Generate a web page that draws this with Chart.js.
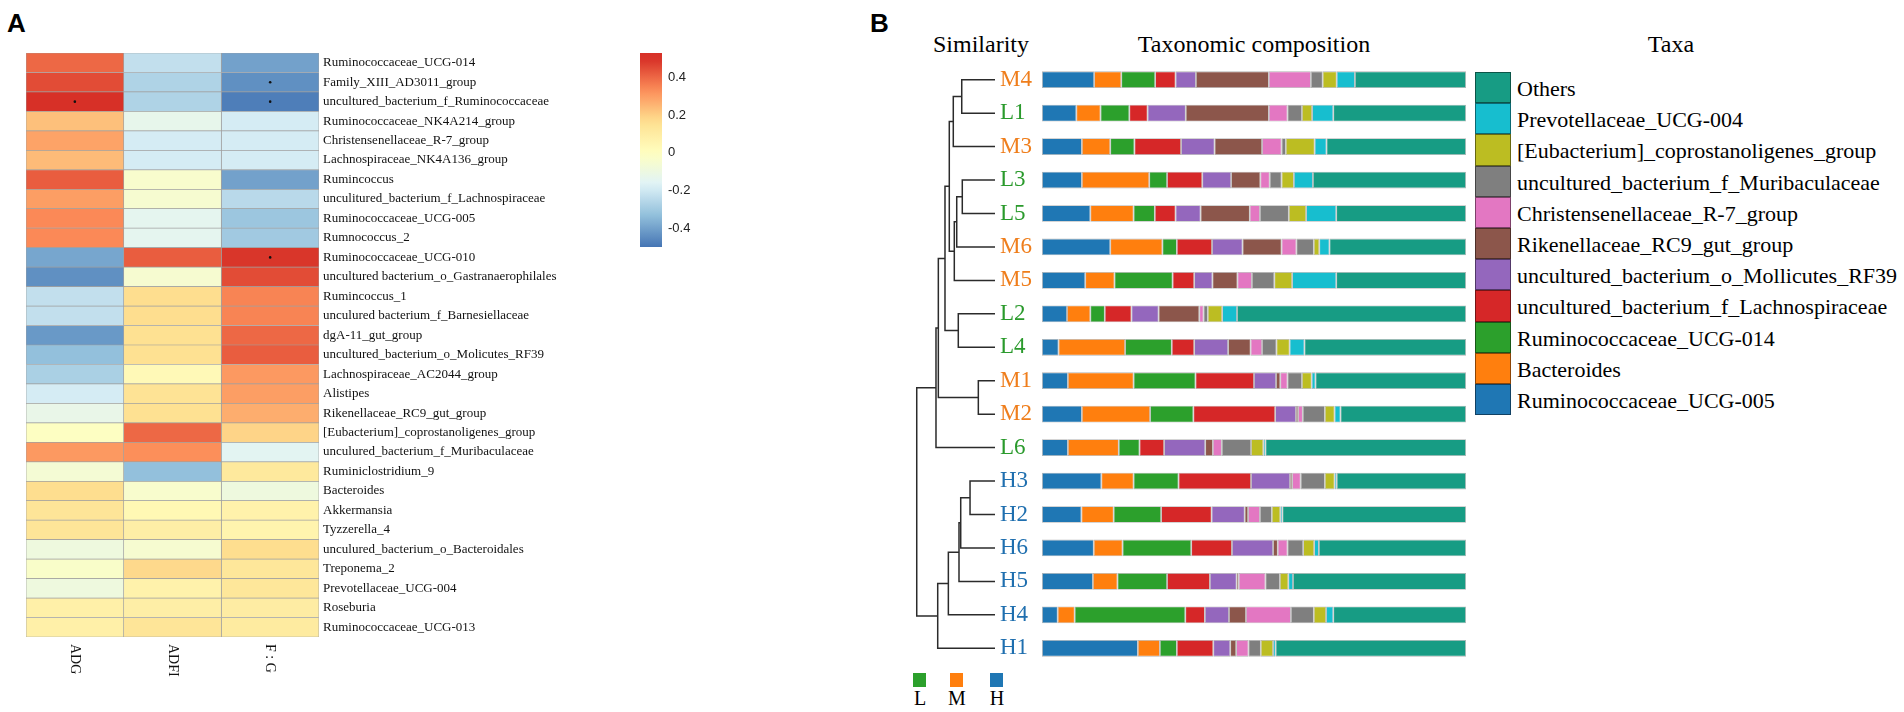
<!DOCTYPE html>
<html>
<head>
<meta charset="utf-8">
<title>Genus-trait correlation and taxonomic composition</title>
<script src="https://cdn.jsdelivr.net/npm/chart.js@4.4.1/dist/chart.umd.min.js"></script>
<style>
  html, body { margin: 0; padding: 0; background: #fff; }
  body { width: 1904px; height: 712px; position: relative; overflow: hidden;
         font-family: 'Liberation Serif', 'Times New Roman', serif; color: #000; }
  .box { position: absolute; }
  .panel { position: absolute; font-family: 'Liberation Sans', Arial, sans-serif;
           font-weight: bold; font-size: 26px; line-height: 26px; }
  .head { position: absolute; font-size: 24px; line-height: 24px; white-space: nowrap;
          transform: translateX(-50%); }
  #taxaLegend { position: absolute; left: 1475px; top: 72px; }
  .lg-row { display: flex; align-items: center; height: 31.2px; }
  .lg-box { width: 36px; height: 31.2px; box-sizing: border-box; border: 1px solid rgba(0,0,0,0.45); }
  .lg-text { margin-left: 6px; font-size: 22px; line-height: 22px; padding-top: 3px; white-space: nowrap; }
  .grp-box { position: absolute; width: 13px; height: 14px; top: 673px; }
  .grp-text { position: absolute; top: 688px; font-size: 20px; line-height: 20px; transform: translateX(-50%); }
</style>
</head>
<body>

<div class="panel" style="left:7px; top:10px;">A</div>
<div class="panel" style="left:870px; top:10px;">B</div>

<div class="head" style="left:981px; top:32px;">Similarity</div>
<div class="head" style="left:1254px; top:32px;">Taxonomic composition</div>
<div class="head" style="left:1671px; top:32px;">Taxa</div>

<div class="box" style="left:26px; top:53px; width:553px; height:629px;"><canvas id="heatChart"></canvas></div>
<div class="box" style="left:640px; top:53px; width:62px; height:194px;"><canvas id="scaleChart"></canvas></div>
<div class="box" style="left:905px; top:63px; width:135px; height:602px;"><canvas id="treeChart"></canvas></div>
<div class="box" style="left:1042px; top:63px; width:424px; height:602px;"><canvas id="barChart"></canvas></div>

<div id="taxaLegend"></div>
<div id="groupLegend"></div>

<script>
// ---- Panel A: Spearman correlation of genera with growth traits ----
const genera = [
    'Ruminococcaceae_UCG-014', 'Family_XIII_AD3011_group', 'uncultured_bacterium_f_Ruminococcaceae',
    'Ruminococcaceae_NK4A214_group', 'Christensenellaceae_R-7_group', 'Lachnospiraceae_NK4A136_group',
    'Rumincoccus', 'unculitured_bacterium_f_Lachnospiraceae', 'Ruminococcaceae_UCG-005',
    'Rumnococcus_2', 'Ruminococcaceae_UCG-010', 'uncultured bacterium_o_Gastranaerophilales',
    'Rumincoccus_1', 'unculured bacterium_f_Barnesiellaceae', 'dgA-11_gut_group',
    'uncultured_bacterium_o_Molicutes_RF39', 'Lachnospiraceae_AC2044_group', 'Alistipes',
    'Rikenellaceae_RC9_gut_group', '[Eubacterium]_coprostanoligenes_group', 'unculured_bacterium_f_Muribaculaceae',
    'Ruminiclostridium_9', 'Bacteroides', 'Akkermansia', 'Tyzzerella_4',
    'unculured_bacterium_o_Bacteroidales', 'Treponema_2', 'Prevotellaceae_UCG-004', 'Roseburia',
    'Ruminococcaceae_UCG-013'
];
const traits = ['ADG', 'ADFI', 'F : G'];

const corrADG = [0.40, 0.45, 0.50, 0.23, 0.29, 0.24, 0.42, 0.30, 0.34, 0.34,
                 -0.39, -0.44, -0.23, -0.23, -0.42, -0.33, -0.28, -0.19, -0.12, -0.01,
                 0.31, -0.06, 0.17, 0.14, 0.14, -0.09, -0.03, -0.09, 0.08, 0.08];
const corrADFI = [-0.23, -0.27, -0.27, -0.13, -0.19, -0.19, -0.04, -0.05, -0.14, -0.14,
                  0.42, -0.05, 0.17, 0.17, 0.16, 0.16, 0.03, 0.15, 0.16, 0.40,
                  0.33, -0.33, -0.04, 0.04, 0.09, -0.05, 0.18, 0.07, 0.09, 0.14];
const corrFG = [-0.40, -0.44, -0.48, -0.19, -0.19, -0.19, -0.40, -0.25, -0.31, -0.30,
                0.49, 0.45, 0.35, 0.35, 0.40, 0.42, 0.31, 0.30, 0.27, 0.19,
                -0.15, 0.12, -0.09, 0.07, 0.06, 0.17, 0.13, 0.13, 0.10, 0.11];

// rows with a significance mark (index into genera)
const signifADG = [2];
const signifADFI = [];
const signifFG = [1, 2, 10];

const scaleMin = -0.5;
const scaleMax = 0.53;
const scaleTicks = [0.4, 0.2, 0, -0.2, -0.4];
const scaleTickLabels = ['0.4', '0.2', '0', '-0.2', '-0.4'];
const palette = ['#4575B4', '#91BFDB', '#E0F3F8', '#FFFFBF', '#FEE090', '#FC8D59', '#D73027'];

// ---- Panel B: relative abundance (%) of top genera per sample ----
const samples = ['M4', 'L1', 'M3', 'L3', 'L5', 'M6', 'M5', 'L2', 'L4',
                 'M1', 'M2', 'L6', 'H3', 'H2', 'H6', 'H5', 'H4', 'H1'];
const groupColors = { L: '#2a9a2c', M: '#ef7e1c', H: '#1f6faf' };

const taxa = ['Ruminococcaceae_UCG-005', 'Bacteroides', 'Ruminococcaceae_UCG-014',
              'uncultured_bacterium_f_Lachnospiraceae', 'uncultured_bacterium_o_Mollicutes_RF39',
              'Rikenellaceae_RC9_gut_group', 'Christensenellaceae_R-7_group',
              'uncultured_bacterium_f_Muribaculaceae', '[Eubacterium]_coprostanoligenes_group',
              'Prevotellaceae_UCG-004', 'Others'];
const taxaColors = ['#1f77b4', '#ff7f0e', '#2ca02c', '#d62728', '#9467bd', '#8c564b',
                    '#e377c2', '#7f7f7f', '#bcbd22', '#17becf', '#179c84'];

const ucg005      = [12.3, 8.1, 9.4, 9.4, 11.4, 16.1, 10.2, 5.9, 3.9, 6.1, 9.4, 6.1, 14.0, 9.3, 12.2, 12.0, 3.7, 22.6];
const bacteroides = [6.4, 5.7, 6.7, 15.9, 10.2, 12.3, 6.9, 5.5, 15.7, 15.5, 16.1, 12.0, 7.6, 7.6, 6.8, 5.8, 4.0, 5.2];
const ucg014      = [8.0, 6.8, 5.7, 4.2, 5.0, 3.4, 13.7, 3.4, 11.0, 14.6, 10.2, 4.9, 10.6, 11.2, 16.2, 11.7, 26.1, 4.0];
const lachno      = [4.8, 4.3, 11.0, 8.3, 4.9, 8.3, 5.1, 6.3, 5.3, 13.8, 19.3, 5.8, 17.1, 11.9, 9.6, 10.1, 4.6, 8.6];
const rf39        = [4.8, 9.0, 7.9, 6.8, 5.9, 7.2, 4.3, 6.4, 8.0, 5.2, 4.9, 9.7, 9.2, 7.8, 9.7, 6.3, 5.7, 4.0];
const rc9         = [17.2, 19.6, 11.2, 6.9, 11.6, 9.2, 5.9, 9.6, 5.3, 1.0, 0.5, 1.8, 0.5, 0.8, 1.1, 0.5, 4.0, 1.4];
const r7          = [9.9, 4.4, 4.6, 2.2, 2.4, 3.5, 3.4, 1.0, 2.7, 1.7, 1.1, 2.1, 2.0, 2.8, 2.3, 6.3, 10.6, 2.9];
const muribac     = [2.8, 3.4, 1.0, 2.8, 6.8, 4.1, 5.3, 1.0, 3.4, 3.4, 5.2, 6.9, 5.7, 2.8, 3.7, 3.4, 5.4, 2.9];
const eubact      = [3.3, 2.4, 6.8, 2.9, 4.1, 1.3, 4.2, 3.4, 3.1, 2.3, 2.3, 2.9, 2.3, 2.0, 2.6, 2.0, 2.9, 2.9];
const prevo004    = [4.3, 5.0, 2.8, 4.5, 7.1, 2.4, 10.4, 3.5, 3.5, 0.9, 1.4, 0.5, 0.5, 0.5, 1.1, 1.1, 1.7, 0.6];
const others      = [26.2, 31.3, 32.9, 36.1, 30.6, 32.2, 30.6, 54.0, 38.1, 35.5, 29.6, 47.3, 30.5, 43.3, 34.7, 40.8, 31.3, 44.9];

// hierarchical clustering: [left, right, height]; numbers refer to earlier merges
const merges = [
    ['M4', 'L1', 0.425], [0, 'M3', 0.533],
    ['L3', 'L5', 0.418], [2, 'M6', 0.489], [3, 'M5', 0.520],
    [1, 4, 0.584], ['L2', 'L4', 0.469], [5, 6, 0.639],
    ['M1', 'M2', 0.213], [7, 8, 0.724], [9, 'L6', 0.754],
    ['H3', 'H2', 0.319], [11, 'H6', 0.438], [12, 'H5', 0.460],
    [13, 'H4', 0.596], [14, 'H1', 0.732], [10, 15, 1.0]
];

const groups = ['L', 'M', 'H'];
const groupLegendX = [920, 957, 997];


Chart.defaults.font.family = "'Liberation Serif', 'Times New Roman', serif";
Chart.defaults.animation = false;

// RdYlBu ramp, same as the colour key
function colorFor(v) {
    const t = Math.min(1, Math.max(0, (v + 0.5) / 1.0)) * (palette.length - 1);
    const i = Math.min(palette.length - 2, Math.floor(t));
    const f = t - i;
    const a = palette[i], b = palette[i + 1];
    const ch = (c, k) => parseInt(c.substr(1 + 2 * k, 2), 16);
    const mix = k => Math.round(ch(a, k) + (ch(b, k) - ch(a, k)) * f);
    return `rgb(${mix(0)}, ${mix(1)}, ${mix(2)})`;
}

const fixedAxis = width => scale => {
    scale.width = width;
    scale.paddingTop = 0;
    scale.paddingBottom = 0;
};

// column labels and significance dots for the heatmap
const heatmapExtras = {
    id: 'heatmapExtras',
    afterDatasetsDraw(chart) {
        const { ctx, chartArea, scales: { x, y } } = chart;
        ctx.save();
        ctx.fillStyle = '#111';
        [signifADG, signifADFI, signifFG].forEach((rows, j) => {
            rows.forEach(r => {
                ctx.beginPath();
                ctx.arc(x.getPixelForValue(j + 0.5), y.getPixelForValue(r), 1.3, 0, Math.PI * 2);
                ctx.fill();
            });
        });
        ctx.font = "14px 'Liberation Serif'";
        ctx.textAlign = 'left';
        ctx.textBaseline = 'middle';
        traits.forEach((t, j) => {
            ctx.save();
            ctx.translate(x.getPixelForValue(j + 0.5), chartArea.bottom + 7);
            ctx.rotate(Math.PI / 2);
            ctx.fillText(t, 0, 0);
            ctx.restore();
        });
        ctx.restore();
    }
};

function initHeatmap() {
    const corr = [corrADG, corrADFI, corrFG];
    new Chart(document.getElementById('heatChart'), {
        type: 'bar',
        data: {
            labels: genera,
            datasets: traits.map((t, j) => ({
                label: t,
                data: genera.map(() => [j, j + 1]),
                backgroundColor: corr[j].map(colorFor),
                borderColor: '#a0a0a0',
                borderWidth: 0.7,
                borderSkipped: false,
                barPercentage: 1,
                categoryPercentage: 1,
                grouped: false
            }))
        },
        options: {
            indexAxis: 'y',
            responsive: true,
            maintainAspectRatio: false,
            layout: { padding: { bottom: 45 } },
            plugins: { legend: { display: false }, tooltip: { enabled: false } },
            scales: {
                x: { min: 0, max: 3, display: false },
                y: {
                    position: 'right',
                    grid: { display: false, drawTicks: false },
                    border: { display: false },
                    ticks: { autoSkip: false, padding: 4, color: '#111',
                             font: { family: "'Liberation Serif'", size: 13 } },
                    afterFit: fixedAxis(260)
                }
            }
        },
        plugins: [heatmapExtras]
    });
}

function initColorKey() {
    new Chart(document.getElementById('scaleChart'), {
        type: 'bar',
        data: {
            labels: [''],
            datasets: [{
                data: [[scaleMin, scaleMax]],
                barPercentage: 1,
                categoryPercentage: 1,
                borderWidth: 0,
                backgroundColor(c) {
                    const chart = c.chart;
                    if (!chart.chartArea) return null;
                    const y = chart.scales.y;
                    const g = chart.ctx.createLinearGradient(0, y.getPixelForValue(scaleMin), 0, y.getPixelForValue(scaleMax));
                    for (let k = 0; k <= 24; k++) {
                        g.addColorStop(k / 24, colorFor(scaleMin + (scaleMax - scaleMin) * k / 24));
                    }
                    return g;
                }
            }]
        },
        options: {
            responsive: true,
            maintainAspectRatio: false,
            plugins: { legend: { display: false }, tooltip: { enabled: false } },
            scales: {
                x: { display: false },
                y: {
                    min: scaleMin,
                    max: scaleMax,
                    position: 'right',
                    grid: { display: false, drawTicks: false },
                    border: { display: false },
                    afterBuildTicks: s => { s.ticks = scaleTicks.map(v => ({ value: v })); },
                    ticks: {
                        padding: 6,
                        color: '#222',
                        font: { family: "'Liberation Sans', Arial, sans-serif", size: 13 },
                        callback: (v, i) => scaleTickLabels[i]
                    },
                    afterFit: fixedAxis(40)
                }
            }
        }
    });
}

// turn the merge list into bracket-shaped polylines
function dendrogramSegments() {
    const nodes = [];
    const pos = ref => (typeof ref === 'string' ? { y: samples.indexOf(ref), h: 0 } : nodes[ref]);
    return merges.map(([a, b, h], k) => {
        const A = pos(a), B = pos(b);
        nodes[k] = { y: (A.y + B.y) / 2, h: h };
        return [{ x: A.h, y: A.y }, { x: h, y: A.y }, { x: h, y: B.y }, { x: B.h, y: B.y }];
    });
}

function initDendrogram() {
    new Chart(document.getElementById('treeChart'), {
        type: 'scatter',
        data: {
            datasets: dendrogramSegments().map(pts => ({
                data: pts,
                showLine: true,
                borderColor: '#2b2b2b',
                borderWidth: 1.5,
                pointRadius: 0,
                tension: 0
            }))
        },
        options: {
            responsive: true,
            maintainAspectRatio: false,
            plugins: { legend: { display: false }, tooltip: { enabled: false } },
            scales: {
                x: { type: 'linear', min: 0, max: 1.15, reverse: true, display: false },
                y: {
                    type: 'linear',
                    min: -0.5,
                    max: samples.length - 0.5,
                    reverse: true,
                    position: 'right',
                    grid: { display: false, drawTicks: false },
                    border: { display: false },
                    afterBuildTicks: s => { s.ticks = samples.map((_, i) => ({ value: i })); },
                    ticks: {
                        padding: 5,
                        font: { family: "'Liberation Serif'", size: 23 },
                        color: c => (c.tick ? groupColors[samples[c.tick.value][0]] : '#000'),
                        callback: v => samples[v]
                    },
                    afterFit: fixedAxis(45)
                }
            }
        }
    });
}

function initComposition() {
    const composition = [ucg005, bacteroides, ucg014, lachno, rf39, rc9, r7, muribac, eubact, prevo004, others];
    new Chart(document.getElementById('barChart'), {
        type: 'bar',
        data: {
            labels: samples,
            datasets: taxa.map((name, k) => ({
                label: name,
                data: composition[k],
                backgroundColor: taxaColors[k],
                borderColor: 'rgba(0, 0, 0, 0.3)',
                borderWidth: 0.8,
                borderSkipped: false,
                barPercentage: 0.5,
                categoryPercentage: 1
            }))
        },
        options: {
            indexAxis: 'y',
            responsive: true,
            maintainAspectRatio: false,
            plugins: { legend: { display: false }, tooltip: { enabled: false } },
            scales: {
                x: { stacked: true, min: 0, max: 100, display: false },
                y: { stacked: true, display: false }
            }
        }
    });
}

function buildLegends() {
    const taxaBox = document.getElementById('taxaLegend');
    for (let k = taxa.length - 1; k >= 0; k--) {
        const row = document.createElement('div');
        row.className = 'lg-row';
        row.innerHTML = `<div class="lg-box" style="background:${taxaColors[k]}"></div>` +
                        `<div class="lg-text">${taxa[k]}</div>`;
        taxaBox.appendChild(row);
    }
    const grp = document.getElementById('groupLegend');
    groups.forEach((g, i) => {
        grp.insertAdjacentHTML('beforeend',
            `<div class="grp-box" style="left:${groupLegendX[i] - 7}px; background:${taxaColors[[2, 1, 0][i]]}"></div>` +
            `<div class="grp-text" style="left:${groupLegendX[i]}px">${g}</div>`);
    });
}

initHeatmap();
initColorKey();
initDendrogram();
initComposition();
buildLegends();
</script>
</body>
</html>
